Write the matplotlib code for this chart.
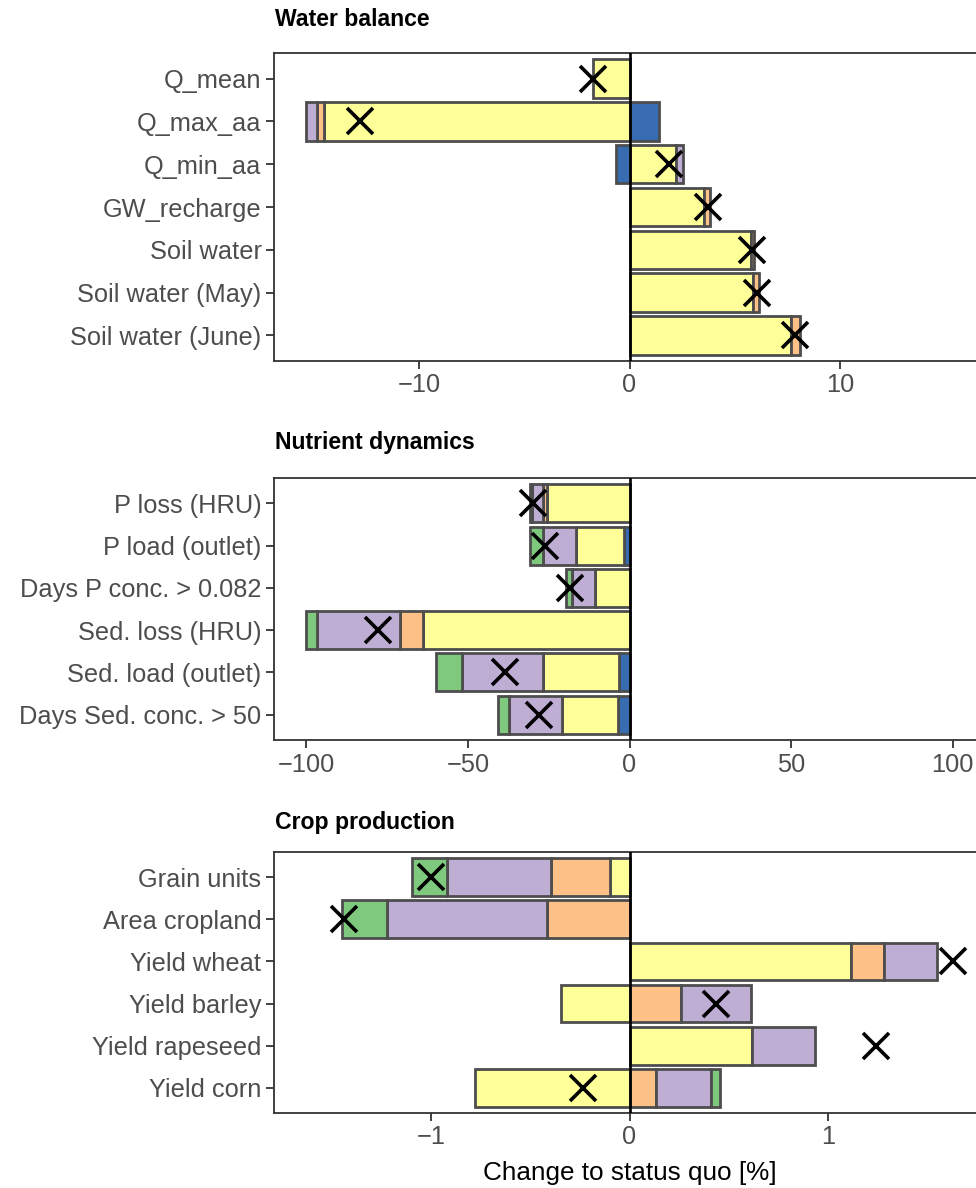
import numpy as np
import matplotlib
matplotlib.use('Agg')
import matplotlib.pyplot as plt

plt.rcParams['font.family'] = ['Liberation Sans', 'DejaVu Sans']

# component colours (stacking order from zero outwards)
components = ['blue', 'yellow', 'orange', 'purple', 'green']
colors = {'blue': '#386CB0', 'yellow': '#FFFF99', 'orange': '#FDC086',
          'purple': '#BEAED4', 'green': '#7FC97F'}

# Water balance
water_cats = ['Q_mean', 'Q_max_aa', 'Q_min_aa', 'GW_recharge', 'Soil water',
              'Soil water (May)', 'Soil water (June)']
water_blue = [0, 1.39, -0.64, 0, 0, 0, 0]
water_yellow = [-1.71, -14.5, 2.2, 3.53, 5.78, 5.88, 7.66]
water_orange = [0, -0.36, 0, 0.28, 0.15, 0.28, 0.43]
water_purple = [0, -0.49, 0.32, 0, 0, 0, 0]
water_green = [0, 0, 0, 0, 0, 0, 0]
water_net = [-1.75, -12.8, 1.88, 3.74, 5.82, 6.05, 7.85]

# Nutrient dynamics
nutr_cats = ['P loss (HRU)', 'P load (outlet)', 'Days P conc. > 0.082',
             'Sed. loss (HRU)', 'Sed. load (outlet)', 'Days Sed. conc. > 50']
nutr_blue = [0, -1.8, 0, 0, -3.1, -3.5]
nutr_yellow = [-25.4, -14.9, -10.6, -63.9, -23.7, -17.4]
nutr_orange = [-1.25, 0, 0, -7.2, 0, 0]
nutr_purple = [-3.5, -10.1, -7.2, -25.6, -24.9, -16.5]
nutr_green = [-0.5, -4.0, -1.7, -3.3, -8.1, -3.3]
nutr_net = [-29.9, -26.0, -18.3, -77.8, -38.5, -28.1]

# Crop production
crop_cats = ['Grain units', 'Area cropland', 'Yield wheat', 'Yield barley',
             'Yield rapeseed', 'Yield corn']
crop_blue = [0, 0, 0, 0, 0, 0]
crop_yellow = [-0.098, 0, 1.116, -0.347, 0.619, -0.778]
crop_orange = [-0.295, -0.415, 0.168, 0.261, 0, 0.136]
crop_purple = [-0.524, -0.805, 0.263, 0.351, 0.317, 0.277]
crop_green = [-0.181, -0.227, 0, 0, 0, 0.041]
crop_net = [-0.998, -1.44, 1.628, 0.435, 1.243, -0.234]

panels = [
    ('Water balance', water_cats,
     [water_blue, water_yellow, water_orange, water_purple, water_green],
     water_net, [-10, 0, 10]),
    ('Nutrient dynamics', nutr_cats,
     [nutr_blue, nutr_yellow, nutr_orange, nutr_purple, nutr_green],
     nutr_net, [-100, -50, 0, 50, 100]),
    ('Crop production', crop_cats,
     [crop_blue, crop_yellow, crop_orange, crop_purple, crop_green],
     crop_net, [-1, 0, 1]),
]

fig = plt.figure(figsize=(9.76, 11.88), dpi=100)
# axes boxes in pixels: (top, bottom)
boxes = [(53, 361), (478, 740), (852, 1113)]
title_y = [20, 443, 822]
left_px, right_px = 274, 985
W, H = 976, 1188

grey = '#333333'
text_grey = '#4D4D4D'

for (title, cats, comps, net, ticks), (top, bot), ty in zip(panels, boxes, title_y):
    ax = fig.add_axes([left_px / W, 1 - bot / H, (right_px - left_px) / W, (bot - top) / H])
    y = np.arange(len(cats))
    pos = np.zeros(len(cats))
    neg = np.zeros(len(cats))
    for name, vals in zip(components, comps):
        vals = np.array(vals, dtype=float)
        p = np.where(vals > 0, vals, 0)
        n = np.where(vals < 0, vals, 0)
        mp = p > 0
        mn = n < 0
        ax.barh(y[mp], p[mp], left=pos[mp], height=0.9, color=colors[name],
                edgecolor='#4D4D4D', linewidth=2.0, zorder=2)
        ax.barh(y[mn], n[mn], left=neg[mn], height=0.9, color=colors[name],
                edgecolor='#4D4D4D', linewidth=2.0, zorder=2)
        pos += p
        neg += n
    ax.axvline(0, color='black', linewidth=1.9, zorder=3)
    ax.plot(net, y, linestyle='none', marker='x', color='black',
            markersize=19, markeredgewidth=2.6, zorder=4)

    L = max(np.max(np.abs(pos)), np.max(np.abs(neg)), np.max(np.abs(net)))
    ax.set_xlim(-1.1 * L, 1.1 * L)
    ax.set_ylim(len(cats) - 0.4, -0.6)
    ax.set_yticks(y)
    ax.set_yticklabels(cats)
    ax.set_xticks(ticks)
    ax.set_xticklabels([str(t).replace('-', '\u2212') for t in ticks])
    ax.tick_params(axis='both', colors=grey, labelcolor=text_grey,
                   labelsize=18.3, length=6, width=1.3, pad=3)
    for s in ax.spines.values():
        s.set_color(grey)
        s.set_linewidth(1.3)
    fig.text((left_px + 1) / W, 1 - ty / H, title, fontsize=16.6, fontweight='bold',
             ha='left', va='center', color='black')

fig.text(630 / W, 1 - 1173 / H, 'Change to status quo [%]', fontsize=18.8,
         ha='center', va='center', color='black')

fig.savefig('out.png', dpi=100)
